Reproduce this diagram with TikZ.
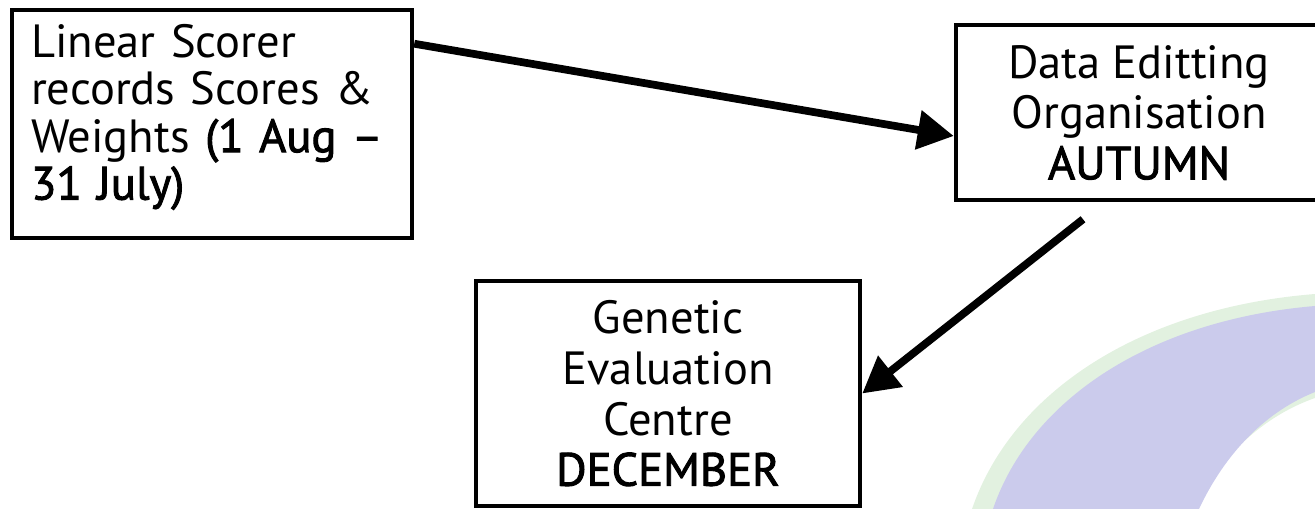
\documentclass[tikz,border=0pt]{standalone}
\usepackage{fontspec}
\setmainfont{PT Sans}
\newfontface\medface[FakeBold=2]{PT Sans}
\usetikzlibrary{arrows.meta,positioning,calc}
\definecolor{ringlav}{HTML}{CBCBEC}
\definecolor{ringgrn}{HTML}{E2F1E0}

\begin{document}
\begin{tikzpicture}[x=0.02cm, y=-0.02cm,
		stage/.style={draw, line width=2.6pt, inner sep=0pt, font=\fontsize{26.5}{28.8}\selectfont},
		flow/.style={line width=4.4pt, -{Triangle[length=0.72cm, width=0.76cm]}}]
		\useasboundingbox (0,0) rectangle (1315,509);
		
		% faint ring of the slide background
		\fill[ringgrn] (972,509) .. controls (1012,392) and (1140,308) .. (1315,294) -- (1315,398) .. controls (1258,418) and (1218,462) .. (1192,509) -- cycle;
		\fill[ringlav] (993,509) .. controls (1030,400) and (1150,320) .. (1315,306) -- (1315,392) .. controls (1260,414) and (1222,460) .. (1199,509) -- cycle;
		
		\node[stage, minimum width=8cm, minimum height=4.56cm] (scorer) at (212,124) {};
		\node[font=\fontsize{26.5}{27}\selectfont, inner sep=0pt, text width=7.2cm, align=left, anchor=north west] (scorertext) at ($(scorer.north west)+(21,16)$) {Linear Scorer\\records Scores \&\\Weights {\medface(1 Aug –}\\{\medface 31 July)}};
		\node[stage, minimum width=7.32cm, minimum height=3.5cm, align=center] (editor) at (1139,112.5) {Data Editting\\Organisation\\{\medface AUTUMN}};
		\node[stage, minimum width=7.68cm, minimum height=4.5cm, align=center] (centre) at (668,393.5) {Genetic\\Evaluation\\Centre\\{\medface DECEMBER}};
		
		\coordinate (gap) at ($(editor.south)+(-56,17)$);
		
		\draw[flow] ($(scorer.north east)+(0,36)$) -- ($(editor.west)+(0,23.5)$); % records sent
		\draw[flow] (gap) -- (centre.east); % edited data
	\end{tikzpicture}
\end{document}
